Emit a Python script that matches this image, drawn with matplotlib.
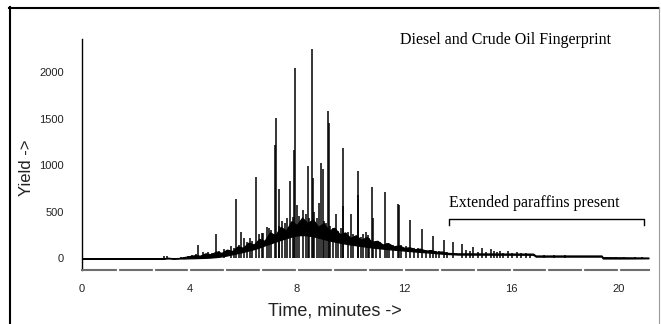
import numpy as np
import matplotlib
matplotlib.use("Agg")
import matplotlib.pyplot as plt
from matplotlib.lines import Line2D

# ---------- dados lidos do cromatograma ----------
# envelope da "corcova" (mistura não resolvida): tempo, borda inferior, borda superior
hump_t = [0.0, 3.0, 3.2, 3.4, 3.6, 3.8, 4.0, 4.2, 4.4, 4.6, 4.8, 5.0, 5.2, 5.4, 5.6,
          5.8, 6.0, 6.2, 6.4, 6.6, 6.8, 7.0, 7.2, 7.4, 7.6, 7.8, 8.0, 8.2, 8.4, 8.6,
          8.8, 9.0, 9.2, 9.4, 9.6, 9.8, 10.0, 10.2, 10.4, 10.6, 10.8, 11.0, 11.2, 11.4,
          11.6, 11.8, 12.0, 12.2, 12.4, 12.6, 12.8, 13.0, 13.2, 13.4, 13.6, 13.8, 14.0,
          16.8, 16.9, 19.35, 19.4, 20.3, 21.1]
hump_lo = [0, 0, 0, 0, 0, 0, 2, 3, 5, 7, 10, 15, 22, 32, 45,
           58, 70, 85, 100, 118, 140, 160, 180, 200, 218, 235, 248, 252, 248, 240,
           225, 210, 195, 182, 170, 160, 150, 142, 134, 126, 118, 112, 106, 100,
           95, 90, 85, 80, 75, 70, 66, 62, 57, 52, 48, 45, 42,
           40, 20, 20, 0, 0, 2]
hump_hi = [0, 0, 8, 2, 5, 15, 25, 35, 30, 55, 45, 75, 60, 95, 80,
           130, 115, 170, 150, 210, 190, 280, 250, 340, 300, 400, 360, 440, 380, 420,
           340, 380, 300, 330, 260, 280, 220, 250, 200, 230, 180, 190, 150, 165,
           130, 140, 115, 120, 100, 105, 85, 90, 72, 75, 60, 58, 55,
           52, 32, 32, 14, 12, 10]

# picos individuais (tempo em min, altura)
peak_t = [3.05, 3.15, 3.7, 3.8, 3.95, 4.1, 4.25, 4.33, 4.5, 4.7, 4.85, 5.0, 5.1, 5.3,
          5.55, 5.65, 5.75, 5.85, 5.92, 6.05, 6.15, 6.24, 6.35, 6.49, 6.6, 6.7, 6.75,
          6.9, 6.95, 7.05, 7.2, 7.23, 7.33, 7.35, 7.45, 7.55, 7.65, 7.73, 7.85, 7.88,
          7.92, 8.02, 8.1, 8.25, 8.35, 8.42, 8.45, 8.56, 8.6, 8.65, 8.75, 8.84, 8.91,
          8.96, 9.0, 9.1, 9.15, 9.19, 9.25, 9.35, 9.46, 9.55, 9.65, 9.71, 9.74, 9.9,
          10.03, 10.1, 10.27, 10.29, 10.4, 10.45, 10.57, 10.65, 10.7, 10.79, 10.84,
          10.95, 11.1, 11.29, 11.35, 11.45, 11.6, 11.76, 11.79, 11.9, 12.05, 12.2,
          12.35, 12.5, 12.66, 12.8, 12.95, 13.07, 13.2, 13.3, 13.48, 13.6, 13.82,
          14.17, 14.3, 14.45, 14.57, 14.75, 14.91, 15.05, 15.25, 15.35, 15.45, 15.58,
          15.7, 15.87, 16.0, 16.2, 16.35, 16.52, 16.7, 17.2, 17.57, 17.98, 19.9,
          20.2, 20.6, 20.85]
peak_h = [25, 22, 15, 20, 25, 40, 50, 143, 65, 70, 60, 268, 80, 100,
          130, 110, 636, 150, 282, 220, 180, 215, 190, 872, 260, 272, 270,
          336, 330, 310, 1216, 1506, 743, 350, 400, 380, 430, 831, 450, 1163,
          2052, 579, 460, 520, 480, 992, 430, 2252, 864, 500, 440, 598, 1028,
          965, 400, 380, 1583, 1462, 350, 330, 477, 300, 330, 563, 1185, 280,
          480, 260, 936, 680, 230, 260, 280, 250, 220, 764, 432,
          190, 180, 710, 170, 160, 150, 583, 570, 140, 130, 413,
          115, 110, 316, 95, 90, 241, 85, 75, 198, 70, 180,
          152, 95, 75, 126, 70, 116, 65, 98, 75, 70, 84,
          62, 80, 58, 66, 55, 62, 52, 40, 35, 32, 18,
          16, 15, 14]

x_ticks = [0, 4, 8, 12, 16, 20]
y_ticks = [0, 500, 1000, 1500, 2000]
# ---------------------------------------------------

W, H = 661, 324
fig = plt.figure(figsize=(W / 100, H / 100), dpi=100)
ax = fig.add_axes([82 / W, 1 - 270 / H, (649 - 82) / W, (270 - 39) / H])

# corcova preenchida + picos
ax.fill_between(hump_t, hump_lo, hump_hi, color="black", lw=0.9)
ax.vlines(peak_t, 0, peak_h, color="black", lw=1.1)

ax.set_xlim(0, 21.12)
ax.set_ylim(-124, 2360)
ax.set_xticks(x_ticks)
ax.set_yticks(y_ticks)
ax.tick_params(axis="both", length=0, labelsize=8, labelcolor="#222222")
ax.tick_params(axis="x", pad=10)
ax.tick_params(axis="y", pad=13)
for lab in ax.get_xticklabels() + ax.get_yticklabels():
    lab.set_family("Liberation Sans")

for s in ["top", "right"]:
    ax.spines[s].set_visible(False)
ax.spines["left"].set_color("black")
ax.spines["left"].set_linewidth(1.0)
ax.spines["bottom"].set_color("#6e6e6e")
ax.spines["bottom"].set_linewidth(1.5)

# pequenas falhas brancas no eixo x (marcas a cada 4/3 min)
gaps = np.arange(1, 16) * 4 / 3
ax.vlines(gaps, -0.015, 0.015, color="white", lw=1.6,
          transform=ax.get_xaxis_transform(), clip_on=False, zorder=5)

# colchete "Extended paraffins present"
ax.plot([13.68, 13.68, 20.95, 20.95], [356, 424, 424, 356], color="black", lw=1.0)
ax.text(13.68, 596, "Extended paraffins present", family="Liberation Serif",
        fontsize=11.5, ha="left", va="center")

fig.text(400 / W, 1 - 40 / H, "Diesel and Crude Oil Fingerprint",
         family="Liberation Serif", fontsize=11.5, ha="left", va="center")
fig.text(27 / W, 1 - 168 / H, "Yield ->", rotation=90, family="Liberation Sans",
         fontsize=12, ha="center", va="center", color="#222222")
fig.text(335 / W, 1 - 311 / H, "Time, minutes ->", family="Liberation Sans",
         fontsize=13, ha="center", va="center", color="#222222")

# moldura (aberta embaixo)
fig.add_artist(Line2D([9.5 / W, 9.5 / W], [0, 1 - 7 / H], color="black", lw=1.5))
fig.add_artist(Line2D([9 / W, 659 / W], [1 - 7.5 / H, 1 - 7.5 / H], color="black", lw=1.5))
fig.add_artist(Line2D([658.5 / W, 658.5 / W], [0, 1 - 7 / H], color="#9a9a9a", lw=0.8))

fig.savefig("out.png", dpi=100)
